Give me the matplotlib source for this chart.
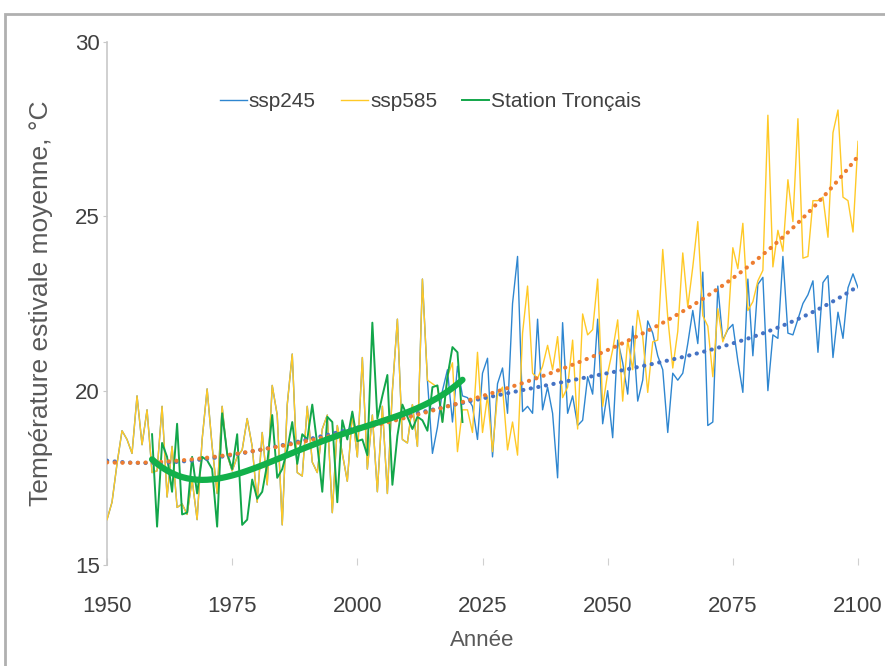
import numpy as np
import matplotlib
matplotlib.use("Agg")
import matplotlib.pyplot as plt
from matplotlib.patches import Rectangle

plt.rcParams['font.family'] = ['Liberation Sans Narrow', 'Liberation Sans', 'DejaVu Sans']

# historique commun (1950-2014)
annees_hist = list(range(1950, 2015))
hist = [16.3, 16.8, 17.9, 18.85, 18.6, 18.2, 19.85, 18.45, 19.45, 17.65,
        17.7, 19.55, 16.95, 18.4, 16.65, 16.75, 16.45, 17.45, 16.3, 18.6,
        20.05, 18.4, 17.05, 19.55, 18.15, 17.7, 18.1, 18.3, 19.2, 18.4,
        16.8, 18.8, 17.3, 20.15, 19.3, 16.15, 19.6, 21.05, 17.65, 17.55,
        19.55, 17.95, 17.65, 18.9, 19.3, 16.5, 19.0, 18.2, 17.4, 19.35,
        18.1, 20.95, 17.75, 19.3, 17.1, 19.55, 17.05, 20.0, 22.05, 18.6,
        18.5, 19.6, 18.4, 23.2, 20.3]

# scénarios (2015-2100)
annees_ssp = list(range(2015, 2101))
ssp245 = [18.2, 18.95, 20.0, 20.6, 19.1, 20.7, 19.85, 19.8, 19.55, 18.6,
          20.5, 20.93, 18.1, 20.2, 20.65, 19.35, 22.5, 23.85, 19.4, 19.55,
          19.35, 22.05, 19.45, 20.1, 19.35, 17.5, 21.95, 19.35, 19.85, 19.0,
          19.15, 20.4, 19.9, 22.05, 19.05, 20.0, 18.65, 21.45, 20.8, 19.9,
          21.85, 19.7, 20.3, 22.0, 21.65, 21.0, 20.6, 18.8, 20.5, 20.3,
          20.5, 21.35, 22.3, 21.35, 23.4, 19.0, 19.1, 23.0, 21.45, 21.75,
          21.9, 20.85, 19.95, 23.2, 21.0, 23.05, 23.25, 20.0, 21.6, 21.5,
          23.85, 21.65, 21.6, 22.05, 22.5, 22.75, 23.15, 21.1, 23.1, 23.3,
          20.95, 22.25, 21.5, 22.95, 23.35, 22.95]
ssp585 = [20.2, 20.1, 19.1, 20.4, 20.8, 18.25, 19.45, 19.45, 18.8, 21.1,
          18.8, 19.85, 18.25, 19.9, 20.1, 18.3, 19.1, 18.15, 21.65, 23.0,
          20.5, 20.35, 20.7, 21.3, 20.6, 21.55, 19.8, 20.1, 21.45, 18.9,
          22.2, 21.6, 21.75, 23.2, 19.55, 20.5, 21.17, 22.03, 19.7, 21.45,
          20.6, 22.3, 21.55, 19.95, 21.4, 21.45, 24.05, 22.1, 20.65, 21.7,
          23.95, 22.4, 23.55, 24.85, 22.15, 21.85, 20.4, 22.35, 21.4, 21.8,
          24.1, 23.5, 24.8, 22.3, 22.55, 23.15, 23.45, 27.9, 23.55, 24.6,
          24.0, 26.05, 24.85, 27.8, 23.8, 23.85, 25.45, 25.45, 25.55, 24.4,
          27.4, 28.05, 25.55, 25.45, 24.55, 27.15]

# station Tronçais (1959-2021)
annees_station = list(range(1959, 2022))
station = [18.75, 16.1, 18.5, 18.1, 17.1, 19.05, 16.45, 16.5, 18.1, 17.05,
           18.1, 18.0, 17.75, 16.1, 19.35, 18.2, 17.75, 18.75, 16.15, 16.3,
           17.45, 16.9, 17.1, 17.9, 19.3, 17.5, 17.75, 18.3, 19.1, 17.9,
           18.75, 18.6, 19.6, 18.45, 17.1, 19.25, 19.1, 16.8, 19.15, 18.6,
           19.4, 18.55, 18.6, 18.15, 21.95, 19.2, 19.85, 20.45, 17.3, 18.7,
           19.6, 19.25, 18.9, 19.25, 19.15, 18.85, 20.1, 20.15, 19.1, 20.4,
           21.25, 21.1, 19.1]

x_all = np.array(annees_hist + annees_ssp)
y245 = np.array(hist + ssp245)
y585 = np.array(hist + ssp585)
xs = np.array(annees_station)
ys = np.array(station)

# courbes de tendance polynomiales (comme Excel)
P = np.polynomial.Polynomial
t245 = P.fit(x_all, y245, 4)(x_all)
t585 = P.fit(x_all, y585, 4)(x_all)
ts = P.fit(xs, ys, 4)(xs)

fig = plt.figure(figsize=(8.85, 6.66), dpi=100)
ax = fig.add_axes([0.1209, 0.1517, 0.8486, 0.7852])

# cadre gris autour du graphique
fig.patches.append(Rectangle((5 / 885, -0.1), 1.2, 1.1 - 14 / 666, transform=fig.transFigure,
                             fill=False, edgecolor="#b0b0b0", linewidth=2))

ax.plot(x_all, y245, color="#2e86d0", linewidth=1.0, label="ssp245", zorder=2)
ax.plot(x_all, y585, color="#ffc926", linewidth=1.0, label="ssp585", zorder=3)
ax.plot(xs, ys, color="#12a64a", linewidth=1.4, label="Station Tronçais", zorder=4)

dot = (0, (0.05, 1.8))
ax.plot(x_all, t245, color="#4472c4", linewidth=3.0, linestyle=dot, dash_capstyle="round", zorder=5)
ax.plot(x_all, t585, color="#ed7d31", linewidth=3.0, linestyle=dot, dash_capstyle="round", zorder=5)
ax.plot(xs, ts, color="#12b04a", linewidth=4.5, solid_capstyle="round", zorder=6)

ax.set_xlim(1950, 2100)
ax.set_ylim(15, 30)
ax.set_xticks([1950, 1975, 2000, 2025, 2050, 2075, 2100])
ax.set_yticks([15, 20, 25, 30])

for s in ["top", "right", "bottom"]:
    ax.spines[s].set_visible(False)
ax.spines["left"].set_color("#c8c8c8")
ax.spines["left"].set_linewidth(1.2)
ax.tick_params(axis="y", length=3, color="#c8c8c8", labelsize=16, labelcolor="#404040", pad=2)
ax.tick_params(axis="x", length=5, direction="in", color="#d0d0d0", labelsize=16,
               labelcolor="#404040", pad=22)

ax.set_xlabel("Année", fontsize=16, color="#595959", labelpad=10)
ax.set_ylabel("Température estivale moyenne, °C", fontsize=19, color="#595959")
ax.yaxis.set_label_coords(-0.072, 0.5)

ax.legend(loc="upper left", bbox_to_anchor=(0.125, 0.94), ncol=3, frameon=False,
          fontsize=15, handlelength=1.3, handletextpad=0.1, columnspacing=1.2,
          labelcolor="#404040")

plt.savefig("out.png", dpi=100)
